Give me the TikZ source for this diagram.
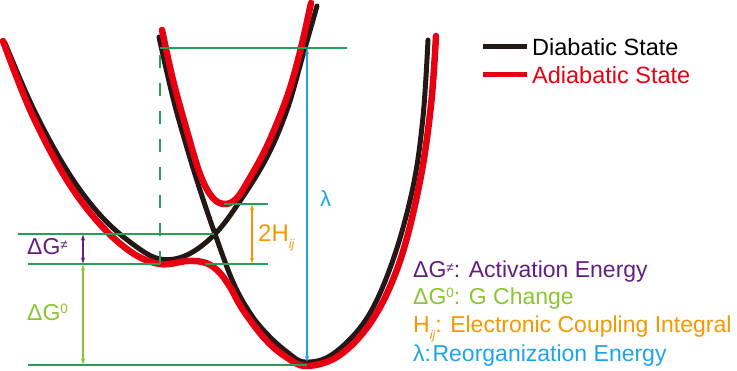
\documentclass[tikz,border=0pt]{standalone}
\usepackage{fontspec}
\setmainfont{Liberation Sans}
\usetikzlibrary{arrows.meta}
\definecolor{cblack}{RGB}{35,24,21}
\definecolor{cred}{RGB}{230,0,18}
\definecolor{cline}{RGB}{35,160,85}
\definecolor{cpurple}{RGB}{100,30,130}
\definecolor{cgreen}{RGB}{140,196,50}
\definecolor{corange}{RGB}{243,152,0}
\definecolor{cblue}{RGB}{30,165,230}
\newcommand\mysup[2]{\raisebox{#1}{\fontsize{13.5}{13.5}\selectfont #2}}
\newcommand\mysub[1]{\raisebox{-7pt}{\fontsize{12.5}{12.5}\selectfont\itshape #1}}
\begin{document}
\begin{tikzpicture}[x=1pt,y=-1pt,
  diab/.style={cblack, line width=5pt, line cap=round, line join=round},
  adiab/.style={cred, line width=6.5pt, line cap=round, line join=round},
  guide/.style={cline, line width=1.2pt},
  dimarrow/.style={line width=1.1pt, {Stealth[length=6pt,width=4pt]}-{Stealth[length=6pt,width=4pt]}},
  lab/.style={inner sep=0pt, anchor=base west, font=\fontsize{23}{25}\selectfont},
]
\useasboundingbox (0,0) rectangle (737,371);

% diabatic curves
\draw[diab] plot[smooth, tension=0.6] coordinates {(5,43) (34,110) (68,172) (101,216) (134,245) (160,259) (187,255) (215,234) (240,201) (267,157) (287,110) (303,55) (317,6)};
\draw[diab] plot[smooth, tension=0.6] coordinates {(159,37) (173,98) (187,148) (200,190) (215,234) (233,282) (250,313) (267,334) (287,352) (305,362) (333,354) (367,318) (393,260) (413,187) (423,117) (428,40)};

% adiabatic curves
\draw[adiab] plot[smooth, tension=0.6] coordinates {(162,30) (173,80) (187,131) (200,174) (212,197) (224,204) (236,199) (248,181) (267,146) (287,97) (300,52) (311,3)};
\draw[adiab] plot[smooth, tension=0.6] coordinates {(3,41) (31,112) (65,177) (98,222) (131,252) (160,264) (188,261) (206,263) (219,272) (230,287) (243,310) (265,339) (286,357) (307,366) (340,355) (373,319) (400,261) (420,181) (431,105) (436,36)};

% guide coordinates
\coordinate (tA) at (160,48);   \coordinate (tB) at (347,48);
\coordinate (hA) at (224,204);  \coordinate (hB) at (268,204);
\coordinate (aA) at (18,234);   \coordinate (aB) at (214,234);
\coordinate (lA) at (28,264);   \coordinate (lB) at (160,264);
\coordinate (lC) at (205,264);  \coordinate (lD) at (268,264);
\coordinate (bA) at (28,365);   \coordinate (bB) at (307,365);

\draw[guide] (tA) -- (tB);
\draw[guide] (hA) -- (hB);
\draw[guide] (aA) -- (aB);
\draw[guide] (lA) -- (lB);
\draw[guide] (lC) -- (lD);
\draw[guide] (bA) -- (bB);
\draw[guide, dash pattern=on 13pt off 15pt] (lB) -- (tA);

% dimension arrows
\coordinate (pa1) at (83,234.5); \coordinate (pa2) at (83,263.5);
\coordinate (ga1) at (83,264.5); \coordinate (ga2) at (83,364.5);
\coordinate (oa1) at (252,204.5);\coordinate (oa2) at (252,263.5);
\coordinate (ba1) at (307,48.5); \coordinate (ba2) at (307,362);
\draw[dimarrow, cpurple] (pa1) -- (pa2);
\draw[dimarrow, cgreen] (ga1) -- (ga2);
\draw[dimarrow, corange] (oa1) -- (oa2);
\draw[dimarrow, cblue] (ba1) -- (ba2);

% labels on the diagram
\node[lab, text=cpurple] (lblAct) at (27,255) {ΔG\mysup{5pt}{≠}};
\node[lab, text=cgreen] (lblG0) at (27,321) {ΔG\mysup{7pt}{0}};
\node[lab, text=corange, font=\fontsize{24}{26}\selectfont] (lblH) at (258,242) {2H\mysub{ij}};
\node[lab, text=cblue, font=\fontsize{22}{24}\selectfont] (lblL) at (320,207) {λ};

% legend
\coordinate (k1a) at (483,47); \coordinate (k1b) at (527,47);
\coordinate (k2a) at (483,75); \coordinate (k2b) at (527,75);
\draw[cblack, line width=5pt] (k1a) -- (k1b);
\draw[cred, line width=5pt] (k2a) -- (k2b);
\node[lab, font=\fontsize{23.5}{25}\selectfont] (legD) at (532,56) {Diabatic State};
\node[lab, text=cred, font=\fontsize{23.5}{25}\selectfont] (legA) at (532,84) {Adiabatic State};

% key
\node[lab, text=cpurple] (key1) at (413,278) {ΔG\mysup{5pt}{≠}: Activation Energy};
\node[lab, text=cgreen] (key2) at (413,305) {ΔG\mysup{7pt}{0}: G Change};
\node[lab, text=corange] (key3) at (413,333) {H\mysub{ij}: Electronic Coupling Integral};
\node[lab, text=cblue] (key4) at (413,362) {λ:\hspace{1.5pt}Reorganization Energy};
\end{tikzpicture}
\end{document}
